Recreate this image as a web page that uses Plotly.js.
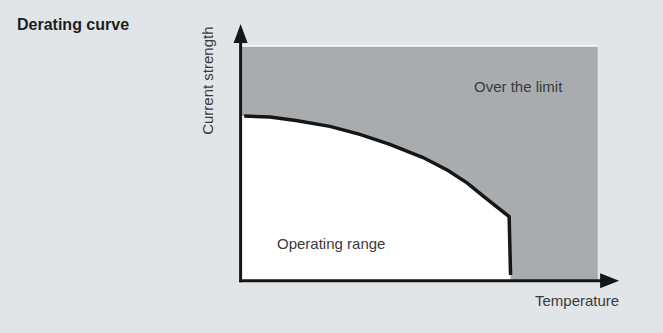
<!DOCTYPE html>
<html>
<head>
<meta charset="utf-8">
<script src="https://cdn.plot.ly/plotly-3.0.1.min.js"></script>
<style>
    html, body { margin: 0; padding: 0; background: #e2e5e8; }
    #chart { width: 663px; height: 333px; }
</style>
</head>
<body>
<div id="chart"></div>
<script>
// Derating curve - qualitative chart, arbitrary units (0..100 on both axes)

// Derating curve points (temperature, current strength)
const tempPts = [1.0, 8.2, 15.5, 25.0, 33.4, 41.8, 51.1, 58.1, 63.4, 69.0, 75.2, 75.6];
const currentPts = [70.3, 69.9, 68.4, 65.9, 62.5, 58.2, 52.6, 47.1, 41.8, 34.9, 27.4, 2.5];

// Outer "over the limit" region
const limitTemp = [0, 100, 100, 0, 0];
const limitCurrent = [0, 0, 100, 100, 0];

// Text
const chartTitle = 'Derating curve';
const xLabel = 'Temperature';
const yLabel = 'Current strength';
const regionLabels = ['Operating range', 'Over the limit'];

// Styles
const COLORS = {
    bg: '#e2e5e8',
    limit: '#a9acaf',
    range: '#ffffff',
    ink: '#161616',
    text: '#3a3a3a'
};
const FONT = '"Liberation Sans", Arial, sans-serif';

// Axis extents (arrow tips)
const X_TIP = 106.0;
const Y_TIP = 109.6;

// plain segments, dense enough to look smooth; keep every point
const curveLine = { shape: 'linear', simplify: false };

const traces = [
    {
        // grey area above the curve
        x: limitTemp,
        y: limitCurrent,
        mode: 'lines',
        fill: 'toself',
        fillcolor: COLORS.limit,
        line: { width: 0 },
        hoverinfo: 'skip'
    },
    {
        // thin white edge on top of the grey area
        x: [limitTemp[0], limitTemp[1]],
        y: [limitCurrent[2] + 0.25, limitCurrent[2] + 0.25],
        mode: 'lines',
        line: { color: '#ffffff', width: 1.2 },
        hoverinfo: 'skip'
    },
    {
        // white operating range under the curve
        x: [0].concat(tempPts),
        y: [currentPts[0]].concat(currentPts),
        mode: 'lines',
        fill: 'tozeroy',
        fillcolor: COLORS.range,
        line: Object.assign({ width: 0 }, curveLine),
        hoverinfo: 'skip'
    },
    {
        // the derating curve itself
        x: tempPts,
        y: currentPts,
        mode: 'lines',
        line: Object.assign({ color: COLORS.ink, width: 3.5 }, curveLine),
        hoverinfo: 'skip'
    }
];

const axisLine = (x0, y0, x1, y1) => ({
    type: 'line', xref: 'x', yref: 'y',
    x0: x0, y0: y0, x1: x1, y1: y1,
    line: { color: COLORS.ink, width: 3 }
});

const arrowHead = (xa, ya, path) => ({
    type: 'path', xref: 'x', yref: 'y',
    xsizemode: 'pixel', ysizemode: 'pixel',
    xanchor: xa, yanchor: ya,
    path: path,
    fillcolor: COLORS.ink,
    line: { width: 0 }
});

const textNote = (text, x, y, extra) => Object.assign({
    text: text, x: x, y: y, xref: 'x', yref: 'y',
    showarrow: false,
    font: { family: FONT, size: 15, color: COLORS.text }
}, extra || {});

const layout = {
    width: 663,
    height: 333,
    margin: { l: 0, r: 0, t: 0, b: 0 },
    paper_bgcolor: COLORS.bg,
    plot_bgcolor: COLORS.bg,
    showlegend: false,
    xaxis: { range: [-67.38, 118.29], visible: false, fixedrange: true },
    yaxis: { range: [-22.28, 119.85], visible: false, fixedrange: true },
    shapes: [
        axisLine(-0.4, 0, X_TIP - 4, 0),
        axisLine(0, -0.6, 0, Y_TIP - 4),
        arrowHead(X_TIP, 0, 'M0,0L-19,7.5L-19,-7.5Z'),
        arrowHead(0, Y_TIP, 'M0,0L-7,-19L7,-19Z')
    ],
    annotations: [
        {
            text: '<b>' + chartTitle + '</b>',
            xref: 'paper', yref: 'paper',
            x: 15 / 663, y: 1 - 25 / 333,
            xanchor: 'left', yanchor: 'middle',
            showarrow: false,
            font: { family: FONT, size: 16, color: '#1e1e1e' }
        },
        textNote(regionLabels[0], 25.4, 16.0),
        textNote(regionLabels[1], 77.9, 83.1),
        textNote(xLabel, 94.2, -8.2),
        textNote(yLabel, -9.1, 85.4, { textangle: -90 })
    ]
};

Plotly.newPlot('chart', traces, layout, { staticPlot: true, displayModeBar: false });
</script>
</body>
</html>
